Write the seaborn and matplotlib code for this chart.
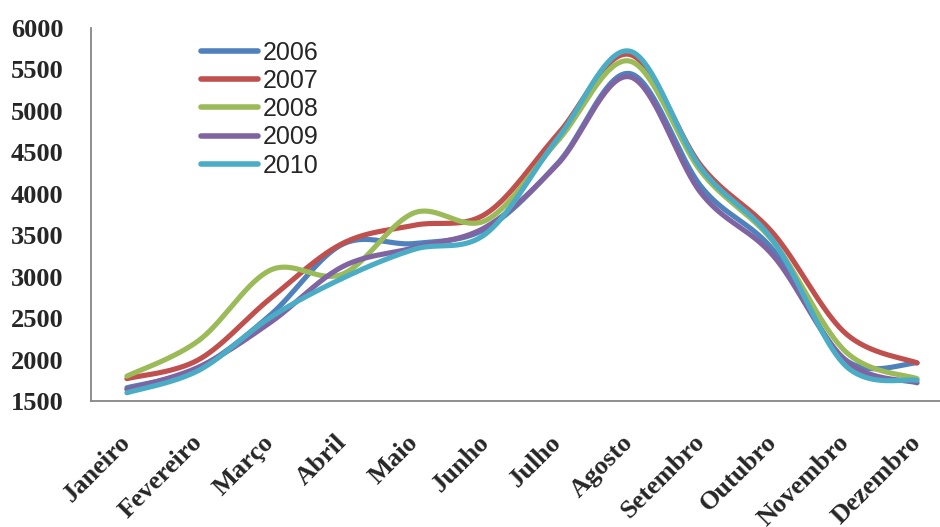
import numpy as np
import pandas as pd
import matplotlib
matplotlib.use("Agg")
import matplotlib.pyplot as plt
import seaborn as sns

months = ["Janeiro", "Fevereiro", "Março", "Abril", "Maio", "Junho",
          "Julho", "Agosto", "Setembro", "Outubro", "Novembro", "Dezembro"]
years = ["2006", "2007", "2008", "2009", "2010"]

v2006 = [1660, 1900, 2540, 3390, 3400, 3580, 4370, 5450, 4080, 3320, 2000, 1960]
v2007 = [1770, 2000, 2740, 3400, 3620, 3760, 4720, 5680, 4330, 3520, 2320, 1960]
v2008 = [1800, 2230, 3080, 3030, 3770, 3680, 4640, 5600, 4260, 3420, 2100, 1770]
v2009 = [1640, 1910, 2450, 3120, 3350, 3600, 4360, 5410, 4000, 3250, 1990, 1720]
v2010 = [1600, 1870, 2510, 2980, 3330, 3520, 4670, 5720, 4300, 3430, 1930, 1750]

colors = ["#4F81BD", "#C0504D", "#9BBB59", "#8064A2", "#4BACC6"]


def smooth(xs, ys, n=40):
    # Excel-style smoothed line: cubic Bezier segments, Catmull-Rom control points
    xs = np.asarray(xs, float)
    ys = np.asarray(ys, float)
    px = np.concatenate([[xs[0]], xs, [xs[-1]]])
    py = np.concatenate([[ys[0]], ys, [ys[-1]]])
    t = np.linspace(0, 1, n)
    outx, outy = [], []
    for i in range(1, len(px) - 2):
        x0, x1, x2, x3 = px[i - 1], px[i], px[i + 1], px[i + 2]
        y0, y1, y2, y3 = py[i - 1], py[i], py[i + 1], py[i + 2]
        cx1, cy1 = x1 + (x2 - x0) / 6, y1 + (y2 - y0) / 6
        cx2, cy2 = x2 - (x3 - x1) / 6, y2 - (y3 - y1) / 6
        b0 = (1 - t) ** 3
        b1 = 3 * (1 - t) ** 2 * t
        b2 = 3 * (1 - t) * t ** 2
        b3 = t ** 3
        outx.append(b0 * x1 + b1 * cx1 + b2 * cx2 + b3 * x2)
        outy.append(b0 * y1 + b1 * cy1 + b2 * cy2 + b3 * y2)
    return np.concatenate(outx), np.concatenate(outy)


frames = []
for yr, vals in zip(years, [v2006, v2007, v2008, v2009, v2010]):
    sx, sy = smooth(range(len(months)), vals)
    frames.append(pd.DataFrame({"pos": sx, "value": sy, "ano": yr}))
df = pd.concat(frames, ignore_index=True)

sns.set_theme(style="white")
plt.rcParams["font.family"] = ["Liberation Serif", "DejaVu Serif"]

fig = plt.figure(figsize=(9.4, 5.27), dpi=100)
ax = fig.add_axes([0.0968, 0.239, 0.917, 0.708])

sns.lineplot(data=df, x="pos", y="value", hue="ano", palette=colors,
             estimator=None, sort=False, linewidth=3.7, ax=ax,
             solid_capstyle="round")

ax.set_xlim(-0.5, 11.5)
ax.set_ylim(1500, 6000)
ax.set_xticks(range(len(months)))
ax.set_xticklabels(months, rotation=45, ha="right", va="center",
                   rotation_mode="anchor", fontsize=19, fontweight="bold")
ax.set_yticks(range(1500, 6001, 500))
ax.set_yticklabels([str(v) for v in range(1500, 6001, 500)],
                   fontsize=19, fontweight="bold")
ax.tick_params(axis="y", length=0, pad=20)
ax.tick_params(axis="x", length=0, pad=27)
ax.set_xlabel("")
ax.set_ylabel("")

for side in ["top", "right"]:
    ax.spines[side].set_visible(False)
for side in ["left", "bottom"]:
    ax.spines[side].set_color("#868686")
    ax.spines[side].set_linewidth(1.3)

leg = ax.legend(loc="upper left", bbox_to_anchor=(0.128, 0.966), frameon=False,
                handlelength=2.25, handletextpad=0.2, labelspacing=0.17,
                borderaxespad=0, borderpad=0,
                prop={"family": "Liberation Sans", "size": 18})
for line in leg.get_lines():
    line.set_linewidth(4)
    line.set_solid_capstyle("round")

fig.savefig("out.png", dpi=100)
